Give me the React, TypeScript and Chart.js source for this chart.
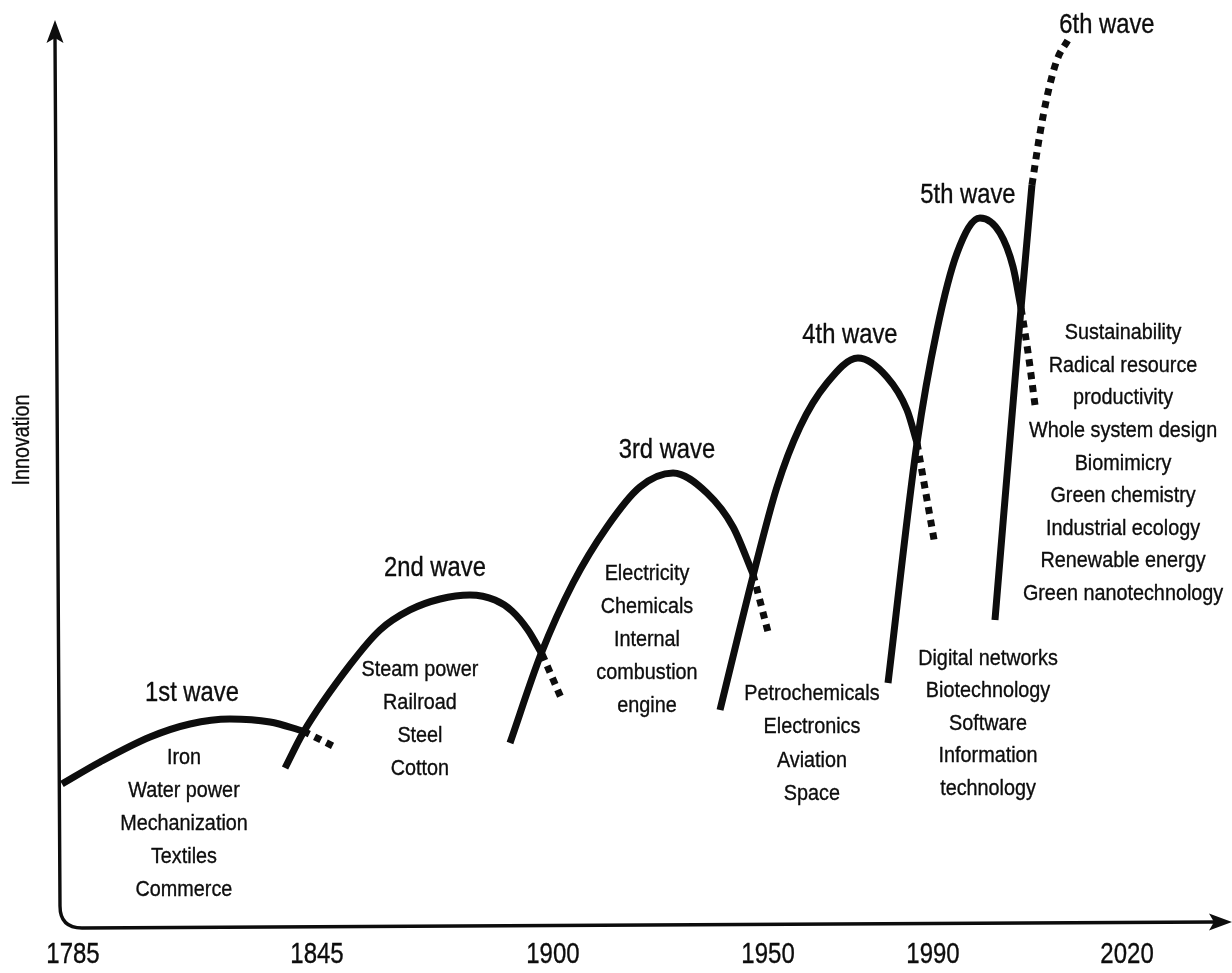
import React, { useEffect, useRef } from "react";
import { Chart, registerables } from "chart.js";

Chart.register(...registerables);

// ---------- data (timeline position 0..100, innovation 0..100) ----------
const TICK_POS = [1.28, 22.06, 42.16, 60.48, 74.53, 91.06];
const TICK_LABELS = ["1785", "1845", "1900", "1950", "1990", "2020"];

const WAVE1_SOLID = [[0.34, 15.58], [3.58, 18.01], [7.84, 20.77], [11.24, 22.21], [14.65, 22.76], [18.06, 22.43], [20.87, 21.44]];
const WAVE1_TAIL = [[20.87, 21.44], [23.59, 19.67]];

const WAVE2_SOLID = [[19.34, 17.35], [20.87, 21.22], [24.87, 28.73], [27.43, 32.6], [29.98, 34.81], [32.54, 36.02], [35.09, 36.46], [37.22, 35.91], [38.67, 34.7], [40.03, 32.6], [41.23, 29.94]];
const WAVE2_TAIL = [[41.23, 29.94], [42.93, 24.86]];

const WAVE3_SOLID = [[38.5, 20.11], [41.14, 29.94], [43.87, 37.79], [46.76, 43.98], [49.57, 48.4], [52.39, 49.94], [55.28, 47.73], [57.5, 43.98], [59.2, 38.78]];
const WAVE3_TAIL = [[59.2, 38.78], [60.48, 32.38]];

const WAVE4_SOLID = [[56.39, 23.76], [59.2, 38.56], [61.24, 48.4], [63.2, 55.03], [65.5, 59.89], [68.14, 62.65], [70.61, 60.55], [72.32, 56.91], [73.17, 53.26]];
const WAVE4_TAIL = [[73.17, 53.26], [74.7, 41.99]];

const WAVE5_SOLID = [[70.7, 26.74], [73.17, 53.26], [74.87, 65.75], [76.58, 74.25], [78.53, 78.12], [80.24, 76.46], [81.35, 72.71], [82.03, 68.18]];
const WAVE5_TAIL = [[82.03, 68.18], [82.62, 63.31], [83.22, 57.46]];

const WAVE6_SOLID = [[79.81, 33.7], [82.03, 68.18], [82.96, 81.77]];
const WAVE6_TAIL = [[82.96, 81.77], [83.65, 87.51], [84.24, 91.49], [85.09, 95.58], [86.03, 97.79]];

const WAVE_NAMES = ["1st wave", "2nd wave", "3rd wave", "4th wave", "5th wave", "6th wave"];
const WAVE1_TECH = ["Iron", "Water power", "Mechanization", "Textiles", "Commerce"];
const WAVE2_TECH = ["Steam power", "Railroad", "Steel", "Cotton"];
const WAVE3_TECH = ["Electricity", "Chemicals", "Internal", "combustion", "engine"];
const WAVE4_TECH = ["Petrochemicals", "Electronics", "Aviation", "Space"];
const WAVE5_TECH = ["Digital networks", "Biotechnology", "Software", "Information", "technology"];
const WAVE6_TECH = ["Sustainability", "Radical resource", "productivity", "Whole system design", "Biomimicry", "Green chemistry", "Industrial ecology", "Renewable energy", "Green nanotechnology"];
const Y_TITLE = "Innovation";

// ---------- annotation anchors (in data units) ----------
const NAME_ANCHORS = [[11.41, 25.64], [32.11, 39.45], [51.87, 52.49], [67.46, 65.19], [77.51, 80.66], [89.35, 99.45]];
const TECH_ANCHORS = [[10.73, 18.45], [30.83, 28.18], [50.17, 38.78], [64.22, 25.52], [79.22, 29.39], [90.72, 65.41]];
const TECH_LINE_PX = [33, 33, 33, 33.3, 32.4, 32.6];
const Y_TITLE_ANCHOR = [-3.07, 53.59];
const TICK_LABEL_Y = -3.3;

const FONT = '"Liberation Sans", Arial, sans-serif';
const INK = "#0d0d0d";

const toXY = (arr: number[][]) => arr.map(([x, y]) => ({ x, y }));

function drawText(ctx: CanvasRenderingContext2D, text: string, x: number, y: number, size: number, squeeze: number, rot = 0) {
  ctx.save();
  ctx.translate(x, y);
  if (rot) ctx.rotate(rot);
  ctx.scale(squeeze, 1);
  ctx.font = `${size}px ${FONT}`;
  ctx.textAlign = "center";
  ctx.textBaseline = "middle";
  ctx.fillStyle = INK;
  ctx.strokeStyle = INK;
  ctx.lineWidth = 0.35;
  ctx.lineJoin = "round";
  ctx.fillText(text, 0, 0);
  ctx.strokeText(text, 0, 0);
  ctx.restore();
}

const decorPlugin = {
  id: "decor",
  beforeDatasetsDraw(chart: any) {
    const { ctx, chartArea } = chart;
    const { left, right, top, bottom } = chartArea;
    ctx.save();
    ctx.strokeStyle = INK;
    ctx.fillStyle = INK;
    ctx.lineWidth = 3.4;
    ctx.lineCap = "round";
    const r = 22;
    ctx.beginPath();
    ctx.moveTo(left - 3, top + 18);
    ctx.lineTo(left + 2, bottom + 3 - r);
    ctx.quadraticCurveTo(left + 2, bottom + 3, left + 2 + r, bottom + 3);
    ctx.lineTo(right - 18, bottom - 3);
    ctx.stroke();
    const yx = left - 3;
    ctx.beginPath();
    ctx.moveTo(yx, top);
    ctx.lineTo(yx + 8.5, top + 23);
    ctx.lineTo(yx, top + 18);
    ctx.lineTo(yx - 8.5, top + 23);
    ctx.closePath();
    ctx.fill();
    const xy = bottom - 3;
    ctx.beginPath();
    ctx.moveTo(right, xy);
    ctx.lineTo(right - 23, xy - 8.5);
    ctx.lineTo(right - 18, xy);
    ctx.lineTo(right - 23, xy + 8.5);
    ctx.closePath();
    ctx.fill();
    ctx.restore();
  },
  afterDatasetsDraw(chart: any) {
    const { ctx } = chart;
    const xs = chart.scales.x;
    const ys = chart.scales.y;
    WAVE_NAMES.forEach((name, i) => {
      const [x, y] = NAME_ANCHORS[i];
      drawText(ctx, name, xs.getPixelForValue(x), ys.getPixelForValue(y), 28, 0.85);
    });
    const lists = [WAVE1_TECH, WAVE2_TECH, WAVE3_TECH, WAVE4_TECH, WAVE5_TECH, WAVE6_TECH];
    lists.forEach((list, i) => {
      const [x, y] = TECH_ANCHORS[i];
      const px = xs.getPixelForValue(x);
      const py = ys.getPixelForValue(y);
      list.forEach((t, j) => drawText(ctx, t, px, py + j * TECH_LINE_PX[i], 22, 0.9));
    });
    TICK_LABELS.forEach((t, i) => {
      drawText(ctx, t, xs.getPixelForValue(TICK_POS[i]), ys.getPixelForValue(TICK_LABEL_Y), 30, 0.8);
    });
    drawText(ctx, Y_TITLE, xs.getPixelForValue(Y_TITLE_ANCHOR[0]), ys.getPixelForValue(Y_TITLE_ANCHOR[1]), 24, 0.82, -Math.PI / 2);
  },
};

export default function App() {
  const ref = useRef<HTMLCanvasElement>(null);
  useEffect(() => {
    if (!ref.current) return;
    const solid = (d: number[][]) => ({
      data: toXY(d),
      borderColor: INK,
      borderWidth: 7,
      cubicInterpolationMode: "monotone" as const,
      pointRadius: 0,
      fill: false,
      borderCapStyle: "butt" as const,
      borderJoinStyle: "round" as const,
    });
    const tail = (d: number[][]) => ({
      data: toXY(d),
      borderColor: INK,
      borderWidth: 7,
      borderDash: [7, 6],
      cubicInterpolationMode: "monotone" as const,
      pointRadius: 0,
      fill: false,
      borderCapStyle: "butt" as const,
    });
    const chart = new Chart(ref.current, {
      type: "line",
      data: {
        datasets: [
          solid(WAVE1_SOLID), tail(WAVE1_TAIL),
          solid(WAVE2_SOLID), tail(WAVE2_TAIL),
          solid(WAVE3_SOLID), tail(WAVE3_TAIL),
          solid(WAVE4_SOLID), tail(WAVE4_TAIL),
          solid(WAVE5_SOLID), tail(WAVE5_TAIL),
          solid(WAVE6_SOLID), tail(WAVE6_TAIL),
        ],
      },
      options: {
        responsive: false,
        animation: false,
        devicePixelRatio: 1,
        layout: { padding: { left: 58, top: 20, right: 0, bottom: 48 } },
        plugins: { legend: { display: false }, tooltip: { enabled: false } },
        scales: {
          x: { type: "linear", display: false, min: 0, max: 100 },
          y: { type: "linear", display: false, min: 0, max: 100 },
        },
      },
      plugins: [decorPlugin],
    });
    return () => chart.destroy();
  }, []);
  return (
    <div style={{ position: "fixed", left: 0, top: 0, width: 1232, height: 973, background: "#fff" }}>
      <canvas ref={ref} width={1232} height={973} style={{ display: "block" }} />
    </div>
  );
}
